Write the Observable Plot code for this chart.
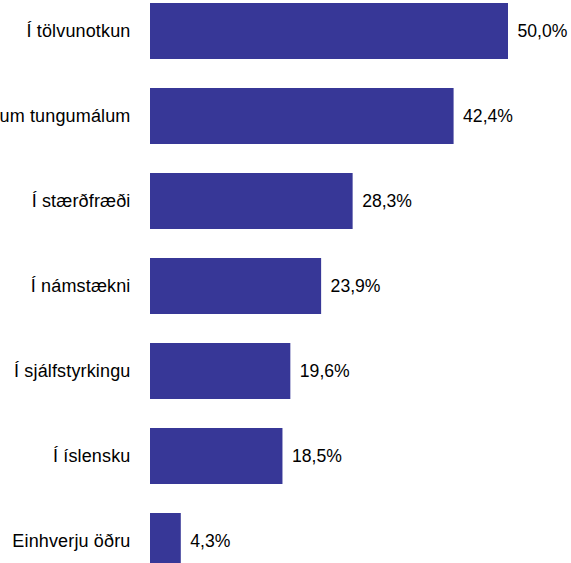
<!DOCTYPE html>
<html>
<head>
<meta charset="utf-8">
<script src="https://cdn.jsdelivr.net/npm/d3@7"></script>
<script src="https://cdn.jsdelivr.net/npm/@observablehq/plot@0.6"></script>
<style>
  html, body { margin: 0; padding: 0; background: #fff; }
  #chart svg { display: block; }
</style>
</head>
<body>
<div id="chart"></div>
<script>
const categories = ["Í tölvunotkun", "Í erlendum tungumálum", "Í stærðfræði", "Í námstækni", "Í sjálfstyrkingu", "Í íslensku", "Einhverju öðru"];
const values = [50.0, 42.4, 28.3, 23.9, 19.6, 18.5, 4.3];

const data = categories.map((c, i) => ({category: c, value: values[i]}));
const fmt = v => v.toFixed(1).replace(".", ",") + "%";

const chart = Plot.plot({
  width: 571,
  height: 563,
  marginLeft: 150,
  marginRight: 63,
  marginTop: 0,
  marginBottom: 0,
  style: {fontFamily: "'Liberation Sans', Arial, sans-serif", background: "#fff"},
  x: {domain: [0, 50], axis: null},
  y: {domain: categories, range: [-14.1, 586.5], paddingInner: 0.336, paddingOuter: 0.168, axis: null},
  marks: [
    Plot.barX(data, {x: "value", y: "category", fill: "#373797"}),
    Plot.text(data, {x: "value", y: "category", text: d => fmt(d.value), textAnchor: "start", dx: 9, fontSize: 17.6, fill: "#000"}),
    Plot.text(data, {x: 0, y: "category", text: "category", textAnchor: "end", dx: -20, fontSize: 18, fill: "#000", style: {letterSpacing: "0.15px"}})
  ]
});
chart.querySelectorAll("g[aria-label='text']:last-of-type text").forEach(t => t.style.letterSpacing = "0.15px");
document.getElementById("chart").appendChild(chart);
</script>
</body>
</html>
